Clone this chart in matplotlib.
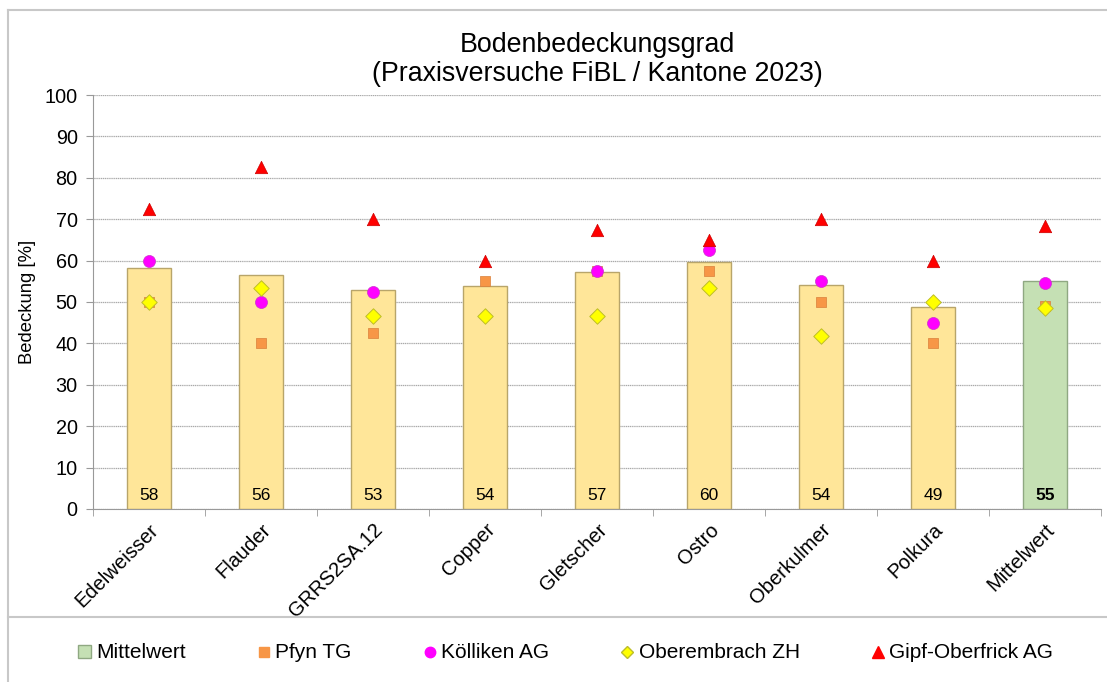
import matplotlib
matplotlib.use("Agg")
import matplotlib.pyplot as plt
from matplotlib.lines import Line2D
from matplotlib.patches import Patch
import numpy as np

plt.rcParams['font.family'] = ['Liberation Sans', 'DejaVu Sans']

categories = ["Edelweisser", "Flauder", "GRRS2SA.12", "Copper", "Gletscher",
              "Ostro", "Oberkulmer", "Polkura", "Mittelwert"]
bar_values = [58.1, 56.4, 52.9, 53.9, 57.3, 59.6, 54.2, 48.75, 55.0]
bar_labels = ["58", "56", "53", "54", "57", "60", "54", "49", "55"]

pfyn = [50, 40, 42.5, 55, 57.5, 57.5, 50, 40, 49.1]
koelliken = [60, 50, 52.5, np.nan, 57.5, 62.5, 55, 45, 54.6]
oberembrach = [50, 53.3, 46.7, 46.7, 46.7, 53.3, 41.7, 50, 48.6]
gipf = [72.5, 82.5, 70, 60, 67.5, 65, 70, 60, 68.4]

yticks = list(range(0, 101, 10))

fig = plt.figure(figsize=(11.07, 6.82), dpi=100)
ax = fig.add_axes([0.084, 0.2537, 0.9106, 0.607])

x = np.arange(len(categories))
bar_fc = ["#FFE699"] * 8 + ["#C5E0B4"]
bar_ec = ["#B8A56A"] * 8 + ["#8FA882"]
ax.bar(x, bar_values, width=0.4, color=bar_fc, edgecolor=bar_ec, linewidth=1.0, zorder=2)

for i, lab in enumerate(bar_labels):
    ax.text(x[i], 3.2, lab, ha='center', va='center', fontsize=12.5,
            fontweight='bold' if i == len(categories) - 1 else 'normal', zorder=5)

ax.scatter(x, pfyn, marker='s', s=48, color='#F79646', edgecolors='#D9803A', linewidths=0.5, zorder=3)
ax.scatter(x, koelliken, marker='o', s=75, color='#FF00FF', edgecolors='#CC33CC', linewidths=0.5, zorder=3)
ax.scatter(x, oberembrach, marker='D', s=62, color='#FFFF00', edgecolors='#BDBD2A', linewidths=0.7, zorder=3)
ax.scatter(x, gipf, marker='^', s=80, color='#FF0000', edgecolors='#CC0000', linewidths=0.5, zorder=3)

ax.set_xlim(-0.5, len(categories) - 0.5)
ax.set_ylim(0, 100)
ax.set_yticks(yticks)
ax.set_yticklabels([str(t) for t in yticks], fontsize=14.3)
ax.set_xticks(x)
ax.set_xticklabels(categories, rotation=45, ha='right', rotation_mode='anchor', fontsize=14.5)
ax.set_xticks(np.arange(-0.5, len(categories), 1.0), minor=True)
ax.tick_params(axis='x', which='major', length=0, pad=8)
ax.tick_params(axis='x', which='minor', length=5, color='#999999')
ax.tick_params(axis='y', length=5, color='#999999', pad=6)

ax.grid(axis='y', color='#AAAAAA', linestyle=(0, (1, 0.5)), linewidth=0.9, zorder=0)
ax.set_axisbelow(True)
for s in ['top', 'right']:
    ax.spines[s].set_visible(False)
for s in ['left', 'bottom']:
    ax.spines[s].set_color('#999999')

ax.set_ylabel("Bedeckung [%]", fontsize=13.3, labelpad=6)
ax.set_title("Bodenbedeckungsgrad\n(Praxisversuche FiBL / Kantone 2023)", fontsize=19.3, pad=10, linespacing=1.15)

# outer frame lines
fig.add_artist(Line2D([8/1107, 1], [1 - 10/682, 1 - 10/682], color='#C8C8C8', lw=1.5))
fig.add_artist(Line2D([8/1107, 8/1107], [0, 1 - 10/682], color='#C8C8C8', lw=1.5))
fig.add_artist(Line2D([8/1107, 1], [1 - 617/682, 1 - 617/682], color='#C8C8C8', lw=1.5))

handles = [
    Patch(facecolor='#C5E0B4', edgecolor='#8FA882'),
    Line2D([], [], marker='s', linestyle='none', color='#F79646', markersize=7),
    Line2D([], [], marker='o', linestyle='none', color='#FF00FF', markersize=7.5),
    Line2D([], [], marker='D', linestyle='none', color='#FFFF00', markeredgecolor='#BDBD2A', markersize=6.5),
    Line2D([], [], marker='^', linestyle='none', color='#FF0000', markersize=8),
]
labels = ["Mittelwert", "Pfyn TG", "Kölliken AG", "Oberembrach ZH", "Gipf-Oberfrick AG"]
fig.legend(handles, labels, loc='center', bbox_to_anchor=(0.511, 1 - 653/682), ncol=5,
           frameon=False, fontsize=15, handlelength=0.6, handleheight=0.6,
           handletextpad=0.25, columnspacing=3.45)

fig.savefig("out.png", dpi=100)
